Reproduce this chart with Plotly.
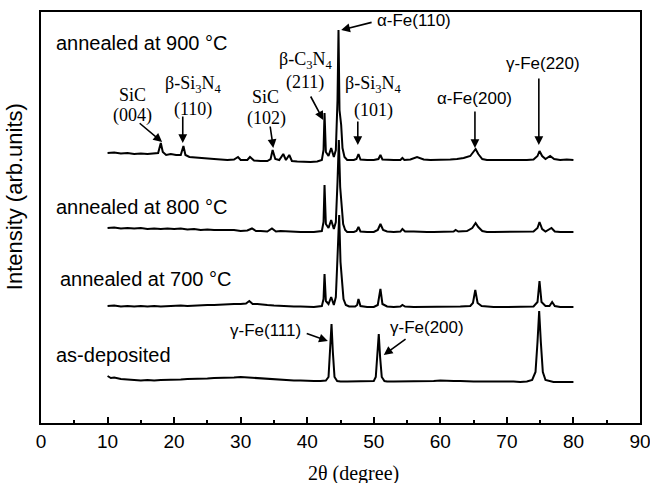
import plotly.graph_objects as go

# ---------------- data (2θ in degree, intensity in arb. units) ----------------
tt_900 = [10, 11, 12, 13, 14, 15, 16, 17, 17.6, 18.0, 18.3, 18.8, 19.5, 20.3, 21.0, 21.4, 21.7, 22.3, 23, 24, 25, 26,
          27, 28, 29, 29.6, 30, 31, 31.4, 32, 33, 34, 34.5, 34.8, 35.2, 35.8, 36.4, 36.8, 37.3, 37.7, 38.5, 39.5,
          40.5, 41.5, 42.2, 42.45, 42.6, 42.8, 43.2, 43.6, 44.0, 44.3, 44.55, 44.7, 44.85, 45.1, 45.3, 45.6, 46,
          47, 47.4, 47.7, 48.0, 49, 50, 50.7, 51.0, 51.3, 52, 53, 54, 54.3, 54.6, 55.5, 56.5, 57.5, 58.5, 59.5,
          60.5, 61.5, 62.5, 63.5, 64.5, 65.0, 65.3, 65.7, 66.3, 67, 68, 69, 70, 71, 72, 73, 74, 74.6, 74.9, 75.3,
          75.8, 76.5, 77.1, 78, 79, 80]
i_900 = [7, 7.5, 6.5, 7, 6, 6.5, 6, 6.5, 7, 17, 8, 5, 6, 5, 5, 14, 5, 3, 2.5, 2, 1.5, 1,
         0.5, 0, 0.5, 3, 0, 0, 3, -0.5, -1, -1, 1, 10, 1, 0, 6, 0, 5, -1, -1.5, -2,
         -2, -1.5, 0, 10, 47, 8, 4, 12, 3, 10, 60, 130, 50, 35, 12, 3, 0,
         0, 1, 6, 0.5, 0, 0, 1, 5, 0.5, 0, 0, 0, 2, 0, 0.5, 3, 0.5, 0, 0,
         0, 0.5, 1, 2, 4, 8, 11, 6, 1, 0, 0, 0, 0, -0.5, 0, 0, 0.5, 4, 9, 4,
         1, 4, 1, 0, 0.5, 0]

tt_800 = [10, 11, 12, 13, 14, 15, 16, 17, 18, 19, 20, 21, 22, 23, 24, 25, 26, 27, 28, 29, 30, 31, 31.7, 32.3,
          33, 34, 34.7, 35.3, 36, 37, 38, 39, 40, 41, 42.2, 42.45, 42.6, 42.8, 43.2, 43.6, 44.0, 44.3, 44.55,
          44.75, 44.95, 45.15, 45.4, 45.7, 46, 47, 47.4, 47.7, 48, 49, 50, 50.6, 51.0, 51.4, 52, 53, 54, 54.3,
          54.7, 56, 57, 58, 59, 60, 61, 62, 62.3, 62.7, 64, 64.8, 65.3, 65.7, 66.3, 67, 68, 69, 70, 71, 72, 73,
          74, 74.6, 74.9, 75.3, 75.8, 76.7, 77.2, 78, 79, 80]
i_800 = [4, 4.5, 3.5, 4, 3.5, 4, 3, 3.5, 3, 3.5, 3, 3.5, 2.5, 3, 2, 2.5, 2, 2, 1.5, 2, 1, 1.5, 3.5, 1,
         1, 0.5, 3.5, 0.5, 1, 0.5, 0, 0, 0, 0, 1, 10, 47, 8, 4, 12, 3, 10, 50,
         92, 45, 30, 8, 2, 0, 0, 1, 5, 0.5, 0, 0, 2, 8, 2, 0.5, 0, 0.5, 3,
         0.5, 0.5, 0, 0, 0, 0, 0, 0.5, 2, 0.5, 1, 4, 9, 5, 1, 0, 0, 0, 0, 0, 0, 0,
         0.5, 4, 10, 3, 0.5, 4, 0.5, 0, 0, 0]

tt_700 = [10, 11, 12, 13, 14, 15, 16, 17, 18, 19, 20, 21, 22, 23, 24, 25, 26, 27, 28, 29, 30, 30.8, 31.3, 31.8,
          32.5, 33, 34, 35, 36, 37, 38, 39, 40, 41, 42.2, 42.45, 42.6, 42.8, 43.2, 43.6, 44.0, 44.3, 44.55, 44.8,
          45.0, 45.2, 45.45, 45.8, 46.3, 47.2, 47.5, 47.7, 48.0, 49, 50, 50.6, 51.0, 51.3, 52, 53, 54, 54.3, 54.7,
          56, 58, 60, 62, 63, 64.5, 64.9, 65.25, 65.6, 66.2, 67, 68, 70, 72, 73, 74, 74.6, 74.9, 75.2, 75.8, 76.4,
          76.8, 77.2, 78, 79, 80]
i_700 = [1, 1.5, 0.5, 1, 0.5, 1, 0.5, 1, 0.5, 1, 1, 1.5, 1, 1.5, 1.5, 2, 2, 2.5, 2.5, 3, 3, 3.5, 6, 3,
         3, 2.5, 2, 1.5, 1, 1, 0.5, 0.5, 0, 0, 1, 8, 33, 6, 3, 10, 2, 10, 50, 92,
         45, 25, 8, 2, 0.5, 0.5, 2, 8, 1, 0, 0, 2, 18, 3, 0.5, 0, 0.5, 2, 0.5,
         0, 0, 0, 0.5, 0.5, 1, 4, 17, 4, 1, 0.5, 0, 0, 0, 0.5, 0.5, 5, 26, 5, 1, 1,
         5, 1, 0, 0, 0]

tt_dep = [10, 10.5, 11, 12, 13, 14, 15, 16, 17, 18, 19, 20, 21, 22, 23, 24, 25, 26, 27, 28, 29, 30, 31, 32, 33,
          34, 35, 36, 37, 38, 39, 40, 41, 42, 42.8, 43.2, 43.45, 43.65, 43.85, 44.1, 44.5, 45, 46, 47, 48, 49,
          50, 50.3, 50.55, 50.75, 50.95, 51.2, 51.6, 52, 53, 54, 55, 56, 57, 58, 59, 60, 61, 62, 63, 64, 65, 66,
          67, 68, 69, 70, 71, 72, 73, 73.8, 74.3, 74.6, 74.85, 75.1, 75.4, 75.8, 76.5, 77, 78, 79, 80]
i_dep = [6, 4, 4.5, 3, 2.5, 2, 1.5, 2, 1.5, 2, 2, 2.5, 2.5, 3, 3, 3.5, 3.5, 4, 4, 4.5, 4.5, 5, 4.5, 4, 3.5,
         3, 2.5, 2, 2, 1.5, 1.5, 1, 1, 1, 1.5, 5, 30, 58, 30, 5, 1, 0.5, 0.5, 0.5, 0.5, 0.5,
         1, 5, 25, 48, 25, 5, 1, 0.5, 0.5, 0.5, 0.5, 1, 1, 1, 1, 1.5, 1, 1, 1, 0.5, 0.5, 0.5,
         0.5, 1, 0.5, 0.5, 0.5, 0, 0.5, 2, 10, 40, 71, 40, 10, 2, 0.5, 0, 0, 0, 0]

# vertical stacking offsets of each pattern (arb. units)
offset_900 = 263
offset_800 = 191
offset_700 = 116
offset_dep = 41

x_ticks = [0, 10, 20, 30, 40, 50, 60, 70, 80, 90]

SANS = "Liberation Sans, Arial, sans-serif"
SERIF = "Liberation Serif, Times New Roman, serif"

fig = go.Figure()
for tt, inten, off in [(tt_900, i_900, offset_900), (tt_800, i_800, offset_800),
                       (tt_700, i_700, offset_700), (tt_dep, i_dep, offset_dep)]:
    fig.add_trace(go.Scatter(x=tt, y=[v + off for v in inten], mode="lines",
                             line=dict(color="black", width=2), showlegend=False,
                             hoverinfo="skip"))

ann = []


def text(x, y, s, font=SANS, size=20, anchor="center"):
    ann.append(dict(x=x, y=y, xref="x", yref="y", text=s, showarrow=False,
                    xanchor=anchor, yanchor="middle", font=dict(family=font, size=size, color="black")))


def arrow(x0, y0, x1, y1):
    ann.append(dict(x=x1, y=y1, ax=x0, ay=y0, xref="x", yref="y", axref="x", ayref="y",
                    text="", showarrow=True, arrowhead=2, arrowsize=1.1, arrowwidth=1.6,
                    arrowcolor="black"))


# sample labels
text(2.0, 380, "annealed at 900 °C", anchor="left")
text(2.0, 216, "annealed at 800 °C", anchor="left")
text(2.6, 144, "annealed at 700 °C", anchor="left")
text(2.0, 68, "as-deposited", anchor="left")

# phase labels
text(13.8, 328, "SiC", SERIF, 18)
text(13.8, 308, "(004)", SERIF, 18)
arrow(14.6, 301, 18.2, 281)

text(22.8, 339, "β-Si<sub>3</sub>N<sub>4</sub>", SERIF, 18)
text(22.8, 314, "(110)", SERIF, 18)
arrow(21.3, 308, 21.3, 280)

text(33.7, 326, "SiC", SERIF, 18)
text(33.9, 305, "(102)", SERIF, 18)
arrow(34.4, 298, 34.9, 275)

text(39.8, 363, "β-C<sub>3</sub>N<sub>4</sub>", SERIF, 18)
text(39.6, 341, "(211)", SERIF, 18)
arrow(40.4, 328, 42.4, 303)

text(56.0, 403, "α-Fe(110)", SANS, 17)
arrow(49.9, 401, 45.1, 393)

text(49.9, 339, "β-Si<sub>3</sub>N<sub>4</sub>", SERIF, 18)
text(49.9, 313, "(101)", SERIF, 18)
arrow(47.6, 303, 47.6, 278)

text(65.2, 325, "α-Fe(200)", SANS, 17)
arrow(65.2, 313, 65.2, 275)

text(75.4, 360, "γ-Fe(220)", SANS, 17)
arrow(74.8, 346, 74.8, 278)

text(33.8, 93, "γ-Fe(111)", SANS, 17)
arrow(39.7, 90, 43.1, 82)

text(58.0, 96, "γ-Fe(200)", SANS, 17)
arrow(55.0, 85, 51.5, 68)

# axis titles
ann.append(dict(x=0.521, y=-0.122, xref="paper", yref="paper", text="2θ (degree)", showarrow=False,
                xanchor="center", yanchor="middle", font=dict(family=SERIF, size=20, color="black")))
ann.append(dict(x=-0.043, y=0.55, xref="paper", yref="paper", text="Intensity (arb.units)", showarrow=False,
                textangle=-90, xanchor="center", yanchor="middle", font=dict(family=SANS, size=22, color="black")))

fig.update_layout(
    width=650, height=483,
    margin=dict(l=41, r=10, t=12, b=60, autoexpand=False),
    paper_bgcolor="white", plot_bgcolor="white",
    annotations=ann,
    xaxis=dict(range=[0, 90], tickvals=x_ticks, ticktext=[str(v) for v in x_ticks],
               ticks="inside", ticklen=6, tickwidth=2, tickcolor="black",
               minor=dict(ticks="inside", ticklen=3, tickwidth=2, tickcolor="black", dtick=5, tick0=0),
               showline=True, linewidth=2, linecolor="black", mirror=True,
               showgrid=False, zeroline=False, automargin=False, ticklabeloverflow="allow",
               tickfont=dict(family=SANS, size=19, color="black")),
    yaxis=dict(range=[0, 411], showticklabels=False, ticks="",
               showline=True, linewidth=2, linecolor="black", mirror=True,
               showgrid=False, zeroline=False, automargin=False),
)

fig.write_html("out.html", config={"displayModeBar": False},
               post_script="document.body.style.margin='0';document.body.style.padding='0';")
